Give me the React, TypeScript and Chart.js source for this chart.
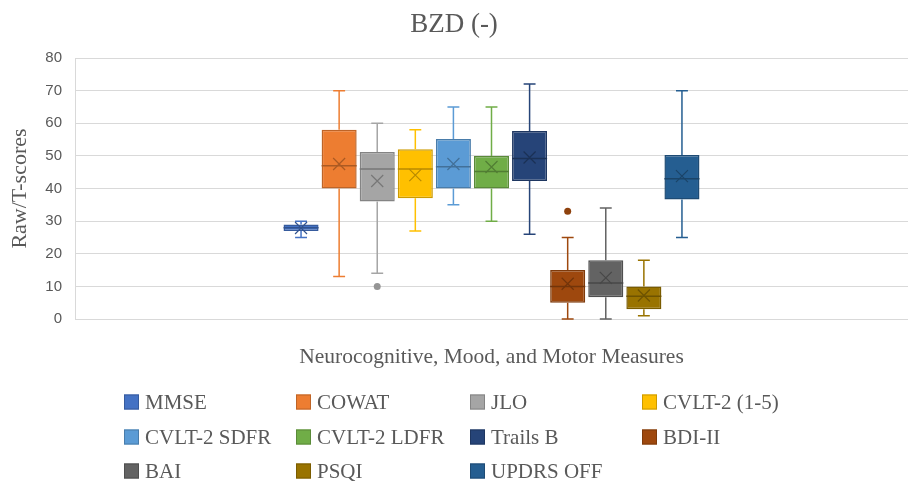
import React, { useEffect, useRef } from "react";
import { Chart, registerables } from "chart.js";

Chart.register(...registerables);

const seriesNames = ["MMSE", "COWAT", "JLO", "CVLT-2 (1-5)", "CVLT-2 SDFR", "CVLT-2 LDFR", "Trails B", "BDI-II", "BAI", "PSQI", "UPDRS OFF"];
const mins = [25, 13, 14, 27, 35, 30, 26, 0, 0, 1, 25];
const q1s = [27, 40, 36, 37, 40, 40, 42.3, 5, 6.7, 3, 36.6];
const medians = [28, 47, 46, 46, 46.7, 45.2, 49.2, 10, 11, 7, 43];
const q3s = [29, 58, 51.2, 52, 55.2, 50, 57.6, 15, 18, 10, 50.3];
const maxs = [30, 70, 60, 58, 65, 65, 72, 25, 34, 18, 70];
const means = [27.9, 47.5, 42.3, 44.1, 47.5, 46.6, 49.5, 10.8, 12.6, 7.2, 43.8];
const outliers: number[][] = [[], [], [10], [], [], [], [], [33], [], [], []];
const colors = ["#4472C4", "#ED7D31", "#A5A5A5", "#FFC000", "#5B9BD5", "#70AD47", "#264478", "#9E480E", "#636363", "#997300", "#255E91"];

const chartTitle = "BZD (-)";
const xTitle = "Neurocognitive, Mood, and Motor Measures";
const yTitle = "Raw/T-scores";

function shade(hex: string, f: number) {
  const n = parseInt(hex.slice(1), 16);
  const r = Math.round(((n >> 16) & 255) * f);
  const g = Math.round(((n >> 8) & 255) * f);
  const b = Math.round((n & 255) * f);
  return `rgb(${r},${g},${b})`;
}

const TEXT = "#595959";
const SERIF = "'Liberation Serif', 'DejaVu Serif', serif";

const boxPlugin = {
  id: "boxExtras",
  afterDatasetsDraw(chart: any) {
    const ctx = chart.ctx;
    const ys = chart.scales.y;
    chart.data.datasets.forEach((_ds: any, i: number) => {
      const meta = chart.getDatasetMeta(i);
      const bar = meta.data[0];
      if (!bar) return;
      const x = bar.x;
      const w = bar.width;
      const col = colors[i];
      const dark = shade(col, 0.72);
      ctx.save();
      ctx.strokeStyle = col;
      ctx.lineWidth = 1.5;
      const cap = w * 0.17;
      const yMax = ys.getPixelForValue(maxs[i]);
      const yQ3 = ys.getPixelForValue(q3s[i]);
      const yQ1 = ys.getPixelForValue(q1s[i]);
      const yMin = ys.getPixelForValue(mins[i]);
      ctx.beginPath();
      ctx.moveTo(x, yQ3); ctx.lineTo(x, yMax);
      ctx.moveTo(x - cap, yMax); ctx.lineTo(x + cap, yMax);
      ctx.moveTo(x, yQ1); ctx.lineTo(x, yMin);
      ctx.moveTo(x - cap, yMin); ctx.lineTo(x + cap, yMin);
      ctx.stroke();
      ctx.strokeStyle = dark;
      ctx.lineWidth = 1.5;
      const yMed = ys.getPixelForValue(medians[i]);
      ctx.beginPath();
      ctx.moveTo(x - w / 2, yMed); ctx.lineTo(x + w / 2, yMed);
      ctx.stroke();
      const yMean = ys.getPixelForValue(means[i]);
      const m = 6;
      ctx.lineWidth = 1.2;
      ctx.beginPath();
      ctx.moveTo(x - m, yMean - m); ctx.lineTo(x + m, yMean + m);
      ctx.moveTo(x + m, yMean - m); ctx.lineTo(x - m, yMean + m);
      ctx.stroke();
      ctx.fillStyle = shade(col, 0.9);
      outliers[i].forEach((v) => {
        ctx.beginPath();
        ctx.arc(x, ys.getPixelForValue(v), 3.5, 0, Math.PI * 2);
        ctx.fill();
      });
      ctx.restore();
    });
  },
  afterDraw(chart: any) {
    const ctx = chart.ctx;
    const area = chart.chartArea;
    ctx.save();
    ctx.fillStyle = TEXT;
    ctx.font = `21.5px ${SERIF}`;
    ctx.textAlign = "center";
    ctx.textBaseline = "middle";
    ctx.fillText(xTitle, (area.left + area.right) / 2, 357);
    const colX = [124, 296, 470, 642];
    const rowY = [402, 437, 471];
    ctx.font = `21px ${SERIF}`;
    ctx.textAlign = "left";
    seriesNames.forEach((name, i) => {
      const cx = colX[i % 4];
      const cy = rowY[Math.floor(i / 4)];
      ctx.fillStyle = colors[i];
      ctx.fillRect(cx, cy - 7.5, 15, 15);
      ctx.strokeStyle = shade(colors[i], 0.8);
      ctx.lineWidth = 1;
      ctx.strokeRect(cx + 0.5, cy - 7, 14, 14);
      ctx.fillStyle = TEXT;
      ctx.fillText(name, cx + 21, cy + 1);
    });
    ctx.restore();
  },
};

export default function App() {
  const ref = useRef<HTMLCanvasElement>(null);
  useEffect(() => {
    if (!ref.current) return;
    const chart = new Chart(ref.current, {
      type: "bar",
      data: {
        labels: [""],
        datasets: seriesNames.map((name, i) => ({
          label: name,
          data: [[q1s[i], q3s[i]]] as any,
          backgroundColor: colors[i],
          borderColor: shade(colors[i], 0.8),
          borderWidth: 1.5,
          borderSkipped: false,
          categoryPercentage: 0.503,
          barPercentage: 0.92,
        })),
      },
      options: {
        responsive: false,
        animation: false,
        layout: { padding: { left: 0, right: 0, top: 0, bottom: 165 } },
        plugins: {
          legend: { display: false },
          tooltip: { enabled: false },
          title: {
            display: true,
            text: chartTitle,
            color: TEXT,
            font: { family: SERIF, size: 27, weight: "normal" },
            padding: { top: 9, bottom: 16.6 },
          },
        },
        scales: {
          x: { display: false },
          y: {
            min: 0,
            max: 80,
            ticks: {
              stepSize: 10,
              color: TEXT,
              padding: 13,
              font: { family: "'Liberation Sans', Arial, sans-serif", size: 15 },
            },
            grid: { color: "#d9d9d9", drawTicks: false, lineWidth: 1 },
            border: { display: true, color: "#d9d9d9" },
            title: {
              display: true,
              text: yTitle,
              color: TEXT,
              font: { family: SERIF, size: 22, weight: "normal" },
              padding: { top: 7, bottom: 0 },
            },
            afterFit: (s: any) => {
              s.width = 75;
            },
          },
        },
      },
      plugins: [boxPlugin],
    });
    return () => chart.destroy();
  }, []);
  return (
    <div style={{ position: "absolute", left: 0, top: 0, width: 908, height: 484, background: "#fff" }}>
      <canvas ref={ref} width={908} height={484} style={{ display: "block" }} />
    </div>
  );
}
